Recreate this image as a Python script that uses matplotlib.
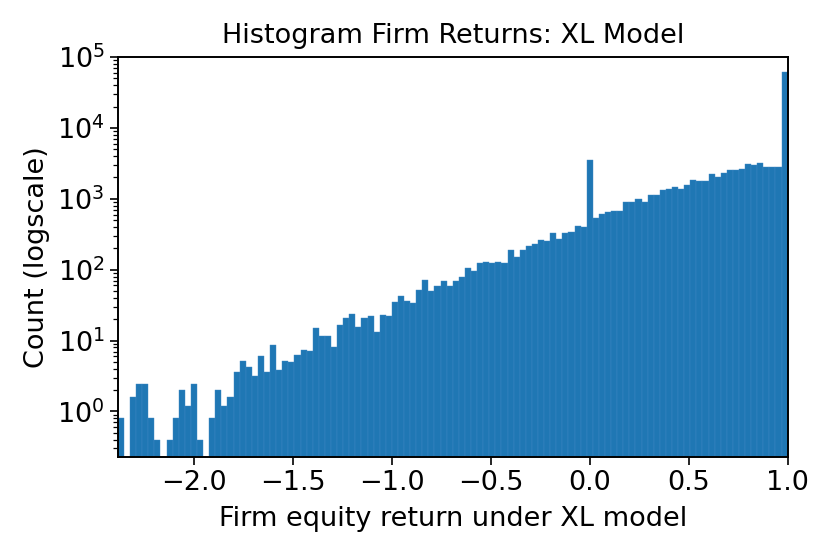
import numpy as np
import matplotlib
matplotlib.use("Agg")
import matplotlib.pyplot as plt

# bin range of the histogram (110 equal bins)
x_min = -2.387
x_max = 1.0
n_bins = 110

# bar heights, left to right
counts = np.array([
    0.8, 0, 1.6, 2.4, 2.4, 0.8, 0.4, 0, 0.4, 0.8,
    2.0, 1.2, 2.4, 0.4, 0, 0.8, 2.0, 1.2, 1.6, 3.6,
    5.2, 4.2, 3.2, 6.0, 3.6, 8.6, 3.8, 5.2, 5.0, 6.2,
    7.4, 7.2, 15, 11.7, 11.7, 8.2, 16.7, 20.5, 23.9, 15.3,
    20.8, 22, 13, 22.9, 22, 35, 42.9, 35.6, 33.8, 51.5,
    71.3, 50.4, 58.7, 69.7, 59.3, 69.7, 78.7, 105, 95.5, 125,
    128, 125, 128, 125, 191, 149, 187, 215, 232, 264,
    256, 331, 270, 324, 343, 420, 398, 3548, 534, 601,
    656, 677, 662, 916, 898, 1009, 898, 1127, 1114, 1310,
    1397, 1462, 1383, 1575, 1853, 1811, 1811, 2230, 2063, 2303,
    2540, 2540, 2675, 3117, 3017, 3221, 2856, 2826, 2826, 62400,
])

edges = np.linspace(x_min, x_max, n_bins + 1)
centers = (edges[:-1] + edges[1:]) / 2

fs = 19.5
fig = plt.figure(figsize=(8.3, 5.54), dpi=100)
ax = fig.add_axes([0.142, 0.175, 0.807, 0.722])
ax.hist(centers, bins=edges, weights=counts, log=True, color="#1f77b4",
        edgecolor="#3f88c5", linewidth=0.3)
ax.set_xlim(x_min, x_max)
ax.set_ylim(0.227, 1e5)
ax.set_title("Histogram Firm Returns: XL Model", fontsize=fs, pad=10)
ax.set_xlabel("Firm equity return under XL model", fontsize=fs, labelpad=7)
ax.set_ylabel("Count (logscale)", fontsize=fs, labelpad=5)
ax.tick_params(labelsize=fs, length=6, width=1.2)
ax.tick_params(which="minor", length=3.5, width=0.9)
for s in ax.spines.values():
    s.set_linewidth(1.4)

fig.savefig("out.png", dpi=100)
